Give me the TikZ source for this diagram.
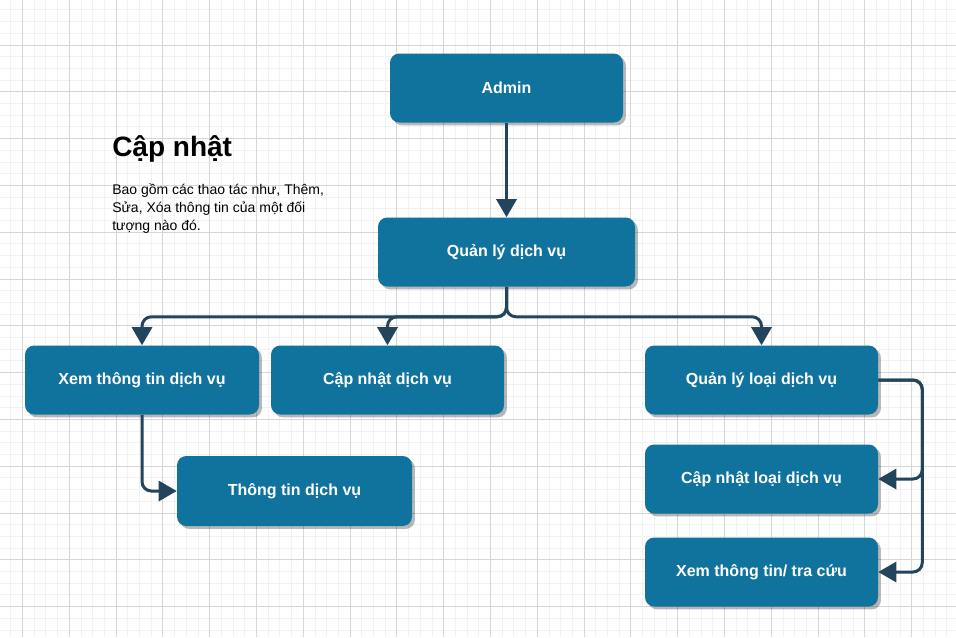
\documentclass[tikz,border=0pt]{standalone}
\usepackage{fontspec}
\setmainfont{Liberation Sans}
\usetikzlibrary{arrows.meta,shadows}
\definecolor{boxblue}{HTML}{10739E}
\definecolor{edgecol}{HTML}{23445D}
\definecolor{gridminor}{HTML}{F2F2F2}
\definecolor{gridmajor}{HTML}{D6D6D6}
\tikzset{
  box/.style={fill=boxblue, rounded corners=7pt, text=white,
    font=\fontsize{12pt}{14pt}\selectfont\bfseries, minimum height=51.75pt, inner sep=0pt,
    drop shadow={shadow xshift=2.2pt, shadow yshift=-2.2pt, fill=black, opacity=0.28}},
  conn/.style={draw=edgecol, line width=2.25pt, rounded corners=7pt,
    -{Triangle[width=15pt,length=13.5pt]}},
  minorline/.style={draw=gridminor, line width=0.75pt},
  majorline/.style={draw=gridmajor, line width=0.75pt},
}
\begin{document}
\begin{tikzpicture}[x=0.75pt,y=-0.75pt]
\useasboundingbox (0,0) rectangle (956,637);
\fill[white] (0,0) rectangle (956,637);
% grid
\foreach \i in {-1,...,80}{
  \pgfmathsetmacro\xx{22.5+\i*11.7}
  \draw[minorline] (\xx,0) -- (\xx,637);}
\foreach \i in {-3,...,51}{
  \pgfmathsetmacro\yy{45+\i*11.7}
  \draw[minorline] (0,\yy) -- (956,\yy);}
\foreach \i in {0,...,20}{
  \pgfmathsetmacro\xx{22.5+\i*46.8}
  \draw[majorline] (\xx,0) -- (\xx,637);}
\foreach \i in {0,...,13}{
  \pgfmathsetmacro\yy{45+\i*46.8}
  \draw[majorline] (0,\yy) -- (956,\yy);}
% text block
\node[anchor=base west, inner sep=0pt, font=\fontsize{21pt}{25pt}\selectfont\bfseries] (title) at (112,156) {Cập nhật};
\node[anchor=base west, inner sep=0pt, align=left, font=\fontsize{10.5pt}{13.2pt}\selectfont] (desc) at (112,230)
  {Bao gồm các thao tác như, Thêm,\\Sửa, Xóa thông tin của một đối\\tượng nào đó.};
% boxes
\node[box, minimum width=174.75pt] (admin) at (506.5,88) {Admin};
\node[box, minimum width=192.75pt] (qldv) at (506.5,252) {Quản lý dịch vụ};
\node[box, minimum width=175.5pt] (xem) at (142,380) {Xem thông tin dịch vụ};
\node[box, minimum width=174.75pt] (cndv) at (387.5,380) {Cập nhật dịch vụ};
\node[box, minimum width=174.75pt] (qll) at (761.5,380) {Quản lý loại dịch vụ};
\node[box, minimum width=174.75pt] (cnl) at (761.5,479) {Cập nhật loại dịch vụ};
\node[box, minimum width=174.75pt] (xtc) at (761.5,572) {Xem thông tin/ tra cứu};
\node[box, minimum width=176.25pt, minimum height=52.5pt] (ttdv) at (294.5,491) {Thông tin dịch vụ};
% connectors
\draw[conn] (admin.south) -- (qldv.north);
\draw[conn] (qldv.south) -- ++(0,30) -| (xem.north);
\draw[conn] (qldv.south) -- ++(0,30) -| (cndv.north);
\draw[conn] (qldv.south) -- ++(0,30) -| (qll.north);
\draw[conn] (xem.south) |- (ttdv.west);
\draw[conn] (qll.east) -- ++(44,0) |- (cnl.east);
\draw[conn] (qll.east) -- ++(44,0) |- (xtc.east);
\end{tikzpicture}
\end{document}
